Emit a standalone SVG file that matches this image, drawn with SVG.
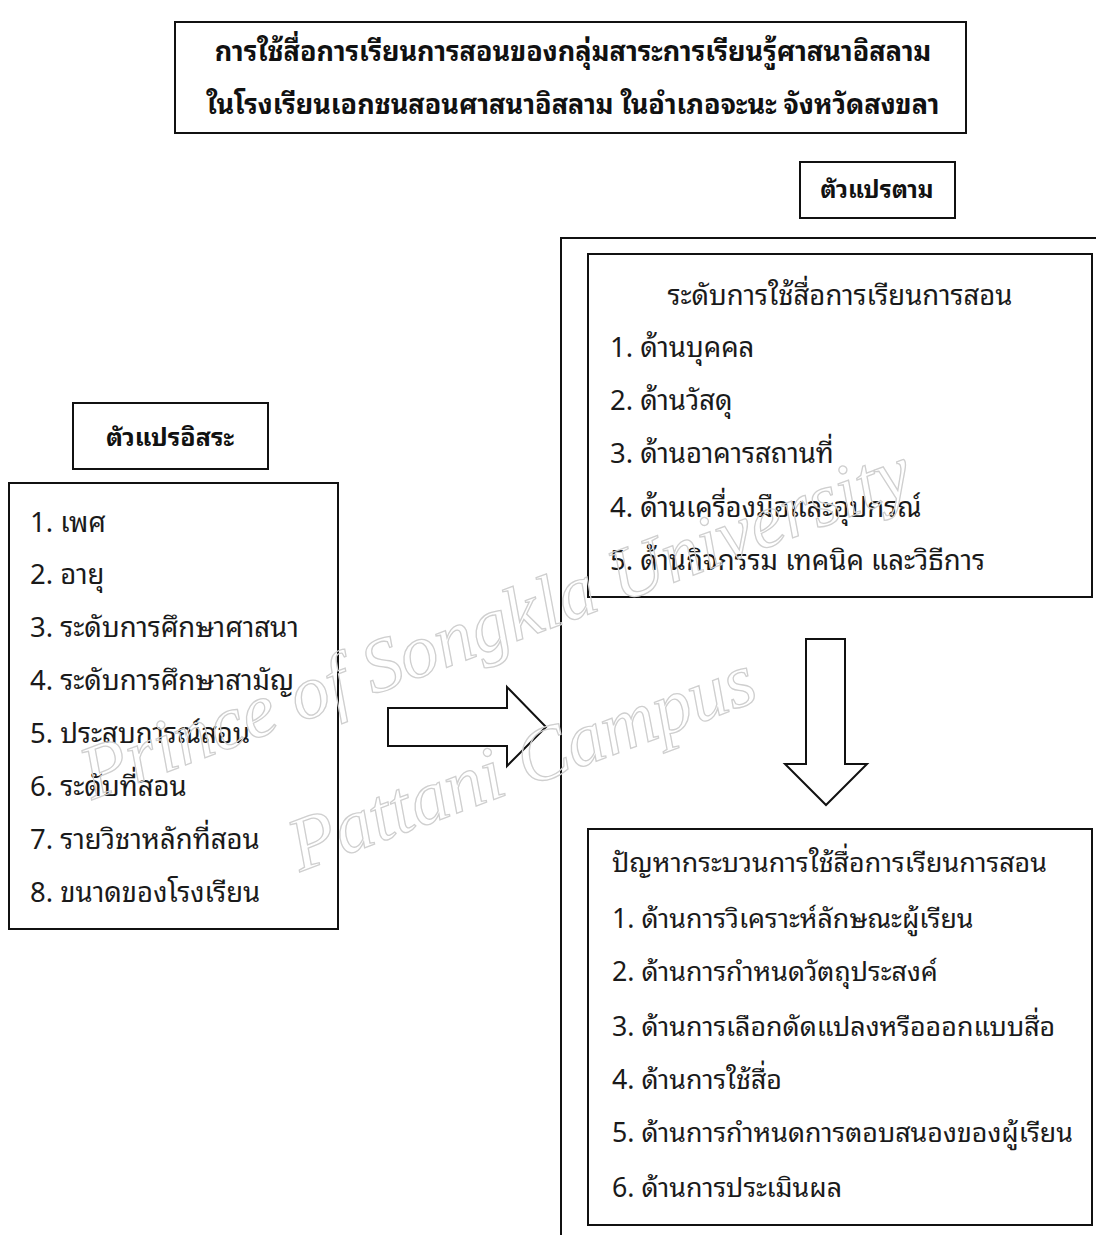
<svg xmlns="http://www.w3.org/2000/svg" width="1096" height="1235" viewBox="0 0 1096 1235">
<style>
  .box { fill: #ffffff; stroke: #111111; stroke-width: 2; }
  .t { font-family: "Noto Sans Thai Looped", "Loma", "Noto Sans Thai", "Noto Sans", sans-serif; font-size: 27.5px; fill: #1a1a1a; }
  .t2 { font-family: "Noto Sans Thai Looped", "Loma", "Noto Sans Thai", "Noto Sans", sans-serif; font-size: 26.8px; fill: #1a1a1a; }
  .b { font-family: "Noto Sans Thai Looped", "Loma", "Noto Sans Thai", "Noto Sans", sans-serif; font-size: 27px; font-weight: bold; fill: #111111; }
  .arrow { fill: #ffffff; stroke: #111111; stroke-width: 2; stroke-linejoin: miter; }
  .wm { font-family: "Liberation Serif", serif; font-style: italic; font-size: 76px; fill: none; stroke: #cfcfcf; stroke-width: 1.3; }
</style>
<rect width="1096" height="1235" fill="#ffffff"/>

<g id="title">
  <rect class="box" x="175" y="22" width="791" height="111"/>
  <text class="b" x="573" y="61" text-anchor="middle">การใช้สื่อการเรียนการสอนของกลุ่มสาระการเรียนรู้ศาสนาอิสลาม</text>
  <text class="b" x="573" y="114" text-anchor="middle">ในโรงเรียนเอกชนสอนศาสนาอิสลาม ในอำเภอจะนะ จังหวัดสงขลา</text>
</g>

<g id="dependent-label">
  <rect class="box" x="800" y="162" width="155" height="56"/>
  <text class="b" x="877" y="198" text-anchor="middle" style="font-size:24px">ตัวแปรตาม</text>
</g>

<g id="dependent-frame">
  <path d="M561,1235 L561,238 L1098,238" fill="none" stroke="#111111" stroke-width="2"/>
</g>

<g id="independent-label">
  <rect class="box" x="73" y="403" width="195" height="66"/>
  <text class="b" x="170" y="446" text-anchor="middle" style="font-size:25px">ตัวแปรอิสระ</text>
</g>

<g id="independent-list">
  <rect class="box" x="9" y="483" width="329" height="446"/>
  <text class="t" x="30" y="532">1. เพศ</text>
  <text class="t" x="30" y="584">2. อายุ</text>
  <text class="t" x="30" y="637">3. ระดับการศึกษาศาสนา</text>
  <text class="t" x="30" y="690">4. ระดับการศึกษาสามัญ</text>
  <text class="t" x="30" y="743">5. ประสบการณ์สอน</text>
  <text class="t" x="30" y="796">6. ระดับที่สอน</text>
  <text class="t" x="30" y="849">7. รายวิชาหลักที่สอน</text>
  <text class="t" x="30" y="902">8. ขนาดของโรงเรียน</text>
</g>

<g id="usage-level">
  <rect class="box" x="588" y="254" width="504" height="343"/>
  <text class="t" x="840" y="305" text-anchor="middle">ระดับการใช้สื่อการเรียนการสอน</text>
  <text class="t" x="610" y="357">1. ด้านบุคคล</text>
  <text class="t" x="610" y="410">2. ด้านวัสดุ</text>
  <text class="t" x="610" y="463">3. ด้านอาคารสถานที่</text>
  <text class="t" x="610" y="517">4. ด้านเครื่องมือและอุปกรณ์</text>
  <text class="t" x="610" y="570">5. ด้านกิจกรรม เทคนิค และวิธีการ</text>
</g>

<g id="usage-problems">
  <rect class="box" x="588" y="829" width="504" height="396"/>
  <text class="t2" x="612" y="872">ปัญหากระบวนการใช้สื่อการเรียนการสอน</text>
  <text class="t2" x="612" y="928">1. ด้านการวิเคราะห์ลักษณะผู้เรียน</text>
  <text class="t2" x="612" y="981">2. ด้านการกำหนดวัตถุประสงค์</text>
  <text class="t2" x="612" y="1036">3. ด้านการเลือกดัดแปลงหรือออกแบบสื่อ</text>
  <text class="t2" x="612" y="1089">4. ด้านการใช้สื่อ</text>
  <text class="t2" x="612" y="1142">5. ด้านการกำหนดการตอบสนองของผู้เรียน</text>
  <text class="t2" x="612" y="1197">6. ด้านการประเมินผล</text>
</g>

<g id="connectors">
  <path class="arrow" d="M388,708 L507,708 L507,687 L546,727 L507,766 L507,746 L388,746 Z"/>
  <path class="arrow" d="M806,639 L845,639 L845,764 L867,764 L826,805 L785,764 L806,764 Z"/>
</g>

<g id="watermark">
  <text class="wm" transform="translate(92,800) rotate(-20.5)">Prince of Songkla University</text>
  <text class="wm" transform="translate(300,872) rotate(-20.5)">Pattani Campus</text>
</g>
</svg>
